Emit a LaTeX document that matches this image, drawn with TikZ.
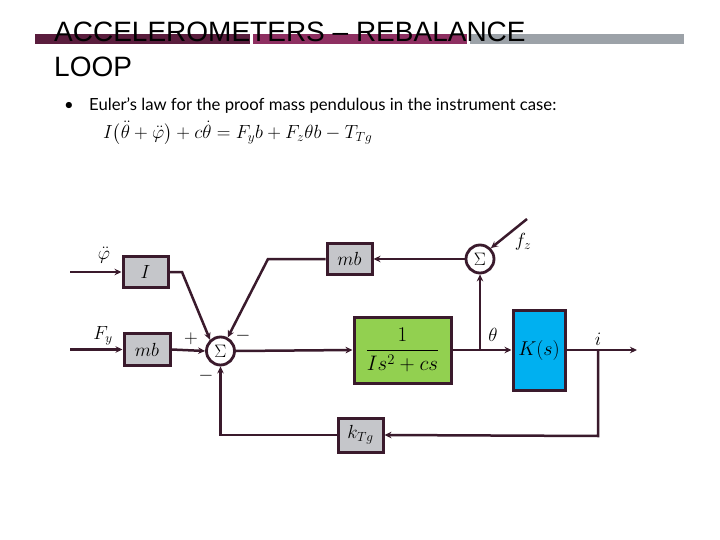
\RequirePackage{fix-cm}
\documentclass[tikz,border=0pt]{standalone}
\usepackage{amsmath}
\usepackage{fontspec}
\setmainfont{Liberation Sans}
\newfontfamily\bodyfont{Lato}
\usetikzlibrary{arrows.meta}
\definecolor{barA}{HTML}{5A1D3D}
\definecolor{barB}{HTML}{8E2F61}
\definecolor{barC}{HTML}{9CA2A8}
\definecolor{edge}{HTML}{3A1A2C}
\definecolor{boxgray}{HTML}{C5C6CA}
\definecolor{boxgreen}{HTML}{92D050}
\definecolor{boxblue}{HTML}{00B0F0}
\tikzset{
  blk/.style={draw=edge, line width=3pt, fill=boxgray, inner sep=0pt, font=\fontsize{19}{21}\selectfont},
  sumc/.style={circle, draw=edge, line width=2.8pt, fill=white, minimum size=28pt, inner sep=0pt, font=\fontsize{18}{20}\selectfont},
  wire/.style={draw=edge, line width=2.5pt},
  arr/.style={wire, -{Stealth[length=7pt,width=6.5pt]}},
  lbl/.style={font=\fontsize{19}{21}\selectfont, inner sep=0pt},
}
\begin{document}
\begin{tikzpicture}[x=1pt,y=-1pt]
\useasboundingbox (0,0) rectangle (720,540);
\fill[white] (0,0) rectangle (720,540);
% title bars
\fill[barA] (35,34) rectangle (250,44);
\fill[barB] (253,34) rectangle (467,44);
\fill[barC] (470,34) rectangle (684,44);
\node[anchor=base west, inner sep=0pt, font=\fontsize{28}{30}\selectfont] (t1) at (54,42) {ACCELEROMETERS – REBALANCE};
\node[anchor=base west, inner sep=0pt, font=\fontsize{28}{30}\selectfont] (t2) at (54,77) {LOOP};
% bullet text
\node[anchor=base west, inner sep=0pt, font=\bodyfont\fontsize{16.7}{19}\selectfont] (bul) at (64,111) {•};
\node[anchor=base west, inner sep=0pt, font=\bodyfont\fontsize{16.7}{19}\selectfont] (txt) at (89,111) {Euler’s law for the proof mass pendulous in the instrument case:};
\node[anchor=base west, inner sep=0pt, font=\fontsize{19}{21}\selectfont] (eq) at (103,139) {$I\big(\ddot{\theta}+\ddot{\varphi}\big)+c\dot{\theta}=F_y b+F_z\theta b-T_{Tg}$};
% blocks
\node[blk, minimum width=45pt, minimum height=31pt] (I) at (145.5,272) {$I$};
\node[blk, minimum width=46pt, minimum height=32pt] (mb1) at (147,349.5) {$mb$};
\node[blk, minimum width=45pt, minimum height=31pt] (mb2) at (349.5,259) {$mb$};
\node[blk, fill=boxgreen, minimum width=97pt, minimum height=66pt, font=\fontsize{21}{23}\selectfont] (G) at (402.5,350) {$\dfrac{1}{Is^2+cs}$};
\node[blk, fill=boxblue, minimum width=52pt, minimum height=80pt, font=\fontsize{20}{22}\selectfont] (K) at (539,350) {$K(s)$};
\node[blk, minimum width=45pt, minimum height=34pt] (kT) at (360.5,435) {$k_{Tg}$};
\node[sumc] (s1) at (220.5,351) {$\Sigma$};
\node[sumc] (s2) at (480,259) {$\Sigma$};
% labels
\node[lbl] (lphi) at (104,255) {$\ddot{\varphi}$};
\node[lbl] (lFy) at (103,336) {$F_y$};
\node[lbl] (lplus) at (191,339) {$+$};
\node[lbl] (lm1) at (243,336) {$-$};
\node[lbl] (lm2) at (206,376) {$-$};
\node[lbl] (lth) at (493,335) {$\theta$};
\node[lbl] (li) at (598,339) {$i$};
\node[lbl] (lfz) at (523,242) {$f_z$};
% coordinates
\coordinate (in1) at (70,272);
\coordinate (in2) at (70,349.5);
\coordinate (k1) at (182,272);
\coordinate (k2) at (268,259);
\coordinate (b1) at (480,350);
\coordinate (b2) at (598,350);
\coordinate (out) at (637,350);
\coordinate (fz) at (527,219);
\coordinate (fb) at (598,436);
% wires
\draw[arr] (in1) -- (I.west);
\draw[arr] (in2) -- (mb1.west);
\draw[arr] (mb1.east) -- (s1.west);
\draw[arr] (I.east) -- (k1) -- (s1.133);
\draw[arr] (mb2.west) -- (k2) -- (s1.62);
\draw[arr] (s1.east) -- (G.west);
\draw[arr] (G.east) -- (K.west);
\draw[arr] (b1) -- (s2.south);
\draw[arr] (s2.west) -- (mb2.east);
\draw[arr] (fz) -- (s2.45);
\draw[arr] (K.east) -- (out);
\draw[arr] (b2) -- (fb) -- (kT.east);
\draw[arr] (kT.west) -| (s1.south);
\end{tikzpicture}
\end{document}
